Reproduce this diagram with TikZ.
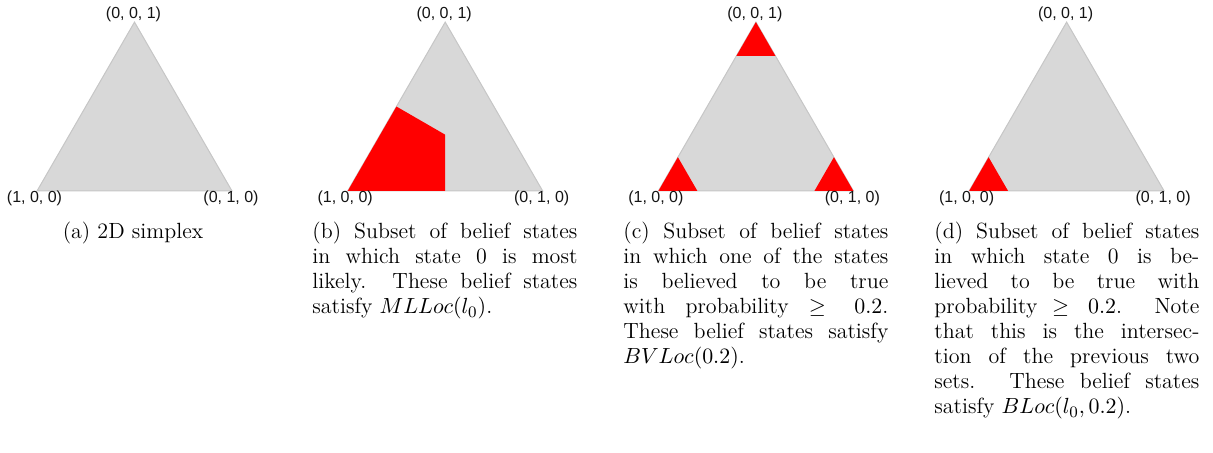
\documentclass[tikz,border=0pt]{standalone}
\usepackage{fontspec}
\usetikzlibrary{calc}
\newfontfamily\vlabelfont{Liberation Sans}
\definecolor{simplexgray}{RGB}{216,216,216}
\definecolor{edgegray}{RGB}{198,198,198}
\definecolor{regionred}{RGB}{255,0,0}
\definecolor{labelink}{RGB}{20,20,20}
\tikzset{
  simplex/.style={fill=simplexgray, draw=edgegray, line width=0.5pt, line join=miter},
  region/.style={fill=regionred, draw=none},
  vlabel/.style={font=\vlabelfont\fontsize{8}{9}\selectfont, text=labelink, inner sep=0pt},
  captext/.style={inner sep=0pt, anchor=base west, font=\fontsize{11}{12.5}\selectfont},
}
\newcommand{\capbox}[1]{\parbox[t]{132.5pt}{\fontsize{11}{12.5}\selectfont #1}}
\begin{document}
\begin{tikzpicture}[x=0.5pt,y=-0.5pt]
\useasboundingbox (0,0) rectangle (1213,453);
% vertices of the four simplices
\foreach \n/\ox in {a/37, b/347.7, c/658.4, d/969.1} {
  \coordinate (\n-l) at (\ox,191);
  \coordinate (\n-r) at (\ox+195,191);
  \coordinate (\n-t) at (\ox+97.5,22.1);
}
\foreach \n in {a,b,c,d} {
  \draw[simplex] (\n-l) -- (\n-r) -- (\n-t) -- cycle;
}
% (b) most likely state 0
\coordinate (b-mb) at ($(b-l)!0.5!(b-r)$);
\coordinate (b-ml) at ($(b-l)!0.5!(b-t)$);
\coordinate (b-c) at ($(b-mb)!1/3!(b-t)$);
\fill[region] (b-l) -- (b-ml) -- (b-c) -- (b-mb) -- cycle;
% (c) corners
\fill[region] (c-t) -- ($(c-t)!0.2!(c-l)$) -- ($(c-t)!0.2!(c-r)$) -- cycle;
\fill[region] (c-l) -- ($(c-l)!0.2!(c-t)$) -- ($(c-l)!0.2!(c-r)$) -- cycle;
\fill[region] (c-r) -- ($(c-r)!0.2!(c-t)$) -- ($(c-r)!0.2!(c-l)$) -- cycle;
% (d) corner at state 0
\fill[region] (d-l) -- ($(d-l)!0.2!(d-t)$) -- ($(d-l)!0.2!(d-r)$) -- cycle;
% vertex labels
\foreach \n in {a,b,c,d} {
  \node[vlabel] (\n-tl) at ($(\n-t)+(-1,-8)$) {(0, 0, 1)};
  \node[vlabel] (\n-ll) at ($(\n-l)+(-2.5,7)$) {(1, 0, 0)};
  \node[vlabel] (\n-rl) at ($(\n-r)+(-1,7)$) {(0, 1, 0)};
}
% captions
\node[captext, anchor=base] (a-cap) at (133,239) {(a) 2D simplex};
\node[captext] (b-cap) at (312,239) {\capbox{(b) Subset of belief states\linebreak
 in which state 0 is most\linebreak
 likely. These belief states\linebreak
 satisfy $MLLoc(l_0)$.}};
\node[captext] (c-cap) at (623,239) {\capbox{(c) Subset of belief states\linebreak
 in which one of the states\linebreak
 is believed to be true\linebreak
 with probability $\geq 0.2$.\linebreak
 These belief states satisfy\linebreak
 $BVLoc(0.2)$.}};
\node[captext] (d-cap) at (934,239) {\capbox{(d) Subset of belief states\linebreak
 in which state 0 is be-\linebreak
 lieved to be true with\linebreak
 probability $\geq 0.2$. Note\linebreak
 that this is the intersec-\linebreak
 tion of the previous two\linebreak
 sets. These belief states\linebreak
 satisfy $BLoc(l_0, 0.2)$.}};
\end{tikzpicture}
\end{document}
